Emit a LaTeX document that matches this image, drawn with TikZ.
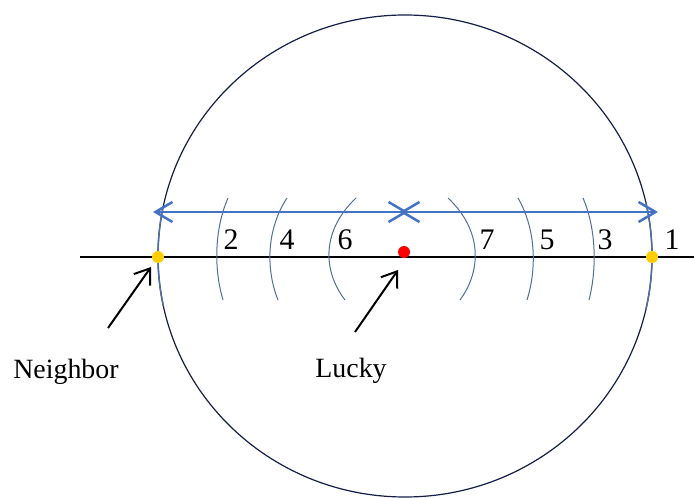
\documentclass[tikz,border=0pt]{standalone}
\usepackage{fontspec}
\setmainfont{Liberation Serif}
\usetikzlibrary{arrows.meta}
\definecolor{arrblue}{RGB}{68,114,196}
\definecolor{arcblue}{RGB}{80,110,160}
\definecolor{ringc}{RGB}{20,30,70}
\definecolor{dotyel}{RGB}{255,205,0}
\tikzset{
  lbl/.style={font=\fontsize{28}{30}\selectfont, inner sep=0pt, anchor=base},
  num/.style={font=\fontsize{30}{32}\selectfont, inner sep=0pt, anchor=base},
  ray/.style={arcblue, line width=1bp},
  span/.style={arrblue, line width=2.5bp, {Straight Barb[length=17bp,width=20bp]}-{Straight Barb[length=17bp,width=20bp]}},
  pointer/.style={black, line width=2bp, -{Straight Barb[length=14bp,width=20bp]}},
  dot/.style={circle, inner sep=0pt, minimum size=12bp},
}
\begin{document}
\begin{tikzpicture}[x=1bp,y=-1bp]
\useasboundingbox (0,0) rectangle (694,498);
% big circle
\draw[ringc, line width=1.2bp] (405,256) ellipse [x radius=247, y radius=241];
% blue arcs along the circle at both ends
\draw[arcblue, line width=1.5bp] (405,256) ++(168:247 and 241) arc [start angle=168, end angle=192, x radius=247, y radius=241];
\draw[arcblue, line width=1.5bp] (405,256) ++(-13:247 and 241) arc [start angle=-13, end angle=13, x radius=247, y radius=241];
% axis
\coordinate (axL) at (80,257);
\coordinate (axR) at (694,257);
\draw[black, line width=2bp] (axL) -- (axR);
% arcs
\draw[ray] (228,198) .. controls (214,230) and (214,270) .. (223,300);
\draw[ray] (287,198) .. controls (266,230) and (266,270) .. (278,300);
\draw[ray] (356,198) .. controls (322,230) and (322,270) .. (345,300);
\draw[ray] (448,198) .. controls (482,230) and (482,270) .. (460,300);
\draw[ray] (518,198) .. controls (536.5,230) and (536.5,270) .. (527,300);
\draw[ray] (583,198) .. controls (596.7,230) and (596.7,270) .. (589,300);
% spans
\coordinate (sL) at (153,212);
\coordinate (sM1) at (408,212);
\coordinate (sM2) at (400,212);
\coordinate (sR) at (658,212);
\draw[span] (sL) -- (sM1);
\draw[span] (sM2) -- (sR);
% dots
\node[dot, fill=dotyel] (nb) at (158,257) {};
\node[dot, fill=dotyel] (far) at (652,257) {};
\node[dot, fill=red] (lk) at (404,252) {};
% numbers
\node[num] (n2) at (231,250) {2};
\node[num] (n4) at (287,250) {4};
\node[num] (n6) at (345,250) {6};
\node[num] (n7) at (487,250) {7};
\node[num] (n5) at (547,250) {5};
\node[num] (n3) at (605,250) {3};
\node[num] (n1) at (672,250) {1};
% labels
\node[lbl] (neigh) at (66,378) {Neighbor};
\node[lbl] (lucky) at (351,377) {Lucky};
\coordinate (pa1) at (108,328);
\coordinate (ta1) at (151,267);
\coordinate (pa2) at (355,332);
\coordinate (ta2) at (398,270);
\draw[pointer] (pa1) -- (ta1);
\draw[pointer] (pa2) -- (ta2);
\end{tikzpicture}
\end{document}
